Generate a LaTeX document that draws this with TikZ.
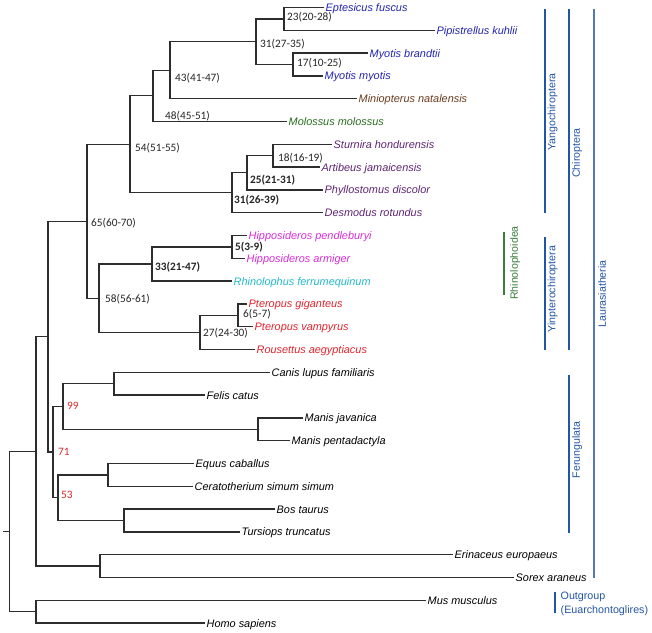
\documentclass[tikz,border=0pt]{standalone}
\usepackage{fontspec}
\setmainfont{Liberation Sans}
\newfontfamily\numfont{Carlito}
\definecolor{vesp}{RGB}{35,35,175}
\definecolor{minio}{RGB}{105,60,30}
\definecolor{molo}{RGB}{40,110,30}
\definecolor{phyl}{RGB}{95,35,115}
\definecolor{hipp}{RGB}{215,45,215}
\definecolor{rhin}{RGB}{35,185,200}
\definecolor{ptero}{RGB}{225,35,45}
\definecolor{cladeblue}{RGB}{35,85,165}
\definecolor{laurblue}{RGB}{85,120,180}
\definecolor{rhgreen}{RGB}{60,125,60}
\definecolor{supred}{RGB}{220,40,40}
\definecolor{branchcol}{RGB}{45,45,45}
\begin{document}
\begin{tikzpicture}[x=1pt,y=-1pt,
  br/.style={draw=branchcol,line width=1.25pt},
  leaf/.style={anchor=west,inner xsep=1.5pt,inner ysep=0pt,text height=7.8pt,text depth=0pt,font=\fontsize{10.9}{12}\selectfont\itshape},
  age/.style={anchor=west,inner sep=0pt,text height=7.2pt,text depth=0pt,font=\numfont\fontsize{11.3}{12}\selectfont,text=black!85},
  agebold/.style={age,font=\numfont\bfseries\fontsize{11.3}{12}\selectfont},
  supp/.style={age,text=supred},
  clade/.style={rotate=90,inner sep=0pt,font=\fontsize{10.6}{12}\selectfont,text=cladeblue},
  outlbl/.style={anchor=west,inner sep=0pt,font=\fontsize{10.7}{12}\selectfont,text=cladeblue},
  bar/.style={draw=cladeblue,line width=1.1pt}]
\useasboundingbox (0,0) rectangle (652,632);
% leaves
\node[leaf,text=vesp] (l1) at (324,7.5) {Eptesicus fuscus};
\node[leaf,text=vesp] (l2) at (435,30.3) {Pipistrellus kuhlii};
\node[leaf,text=vesp] (l3) at (368,53.1) {Myotis brandtii};
\node[leaf,text=vesp] (l4) at (323,75.9) {Myotis myotis};
\node[leaf,text=minio] (l5) at (357,98.7) {Miniopterus natalensis};
\node[leaf,text=molo] (l6) at (287,121.5) {Molossus molossus};
\node[leaf,text=phyl] (l7) at (332,144.3) {Sturnira hondurensis};
\node[leaf,text=phyl] (l8) at (320,167.1) {Artibeus jamaicensis};
\node[leaf,text=phyl] (l9) at (323,189.9) {Phyllostomus discolor};
\node[leaf,text=phyl] (l10) at (323,212.7) {Desmodus rotundus};
\node[leaf,text=hipp] (l11) at (247,235.5) {Hipposideros pendleburyi};
\node[leaf,text=hipp] (l12) at (245,258.3) {Hipposideros armiger};
\node[leaf,text=rhin] (l13) at (232,281.1) {Rhinolophus ferrumequinum};
\node[leaf,text=ptero] (l14) at (247,303.9) {Pteropus giganteus};
\node[leaf,text=ptero] (l15) at (253,326.7) {Pteropus vampyrus};
\node[leaf,text=ptero] (l16) at (255,349.5) {Rousettus aegyptiacus};
\node[leaf] (l17) at (270,372.3) {Canis lupus familiaris};
\node[leaf] (l18) at (205,395.1) {Felis catus};
\node[leaf] (l19) at (303,417.9) {Manis javanica};
\node[leaf] (l20) at (290,440.7) {Manis pentadactyla};
\node[leaf] (l21) at (194,463.5) {Equus caballus};
\node[leaf] (l22) at (193,486.3) {Ceratotherium simum simum};
\node[leaf] (l23) at (275,509.1) {Bos taurus};
\node[leaf] (l24) at (240,531.9) {Tursiops truncatus};
\node[leaf] (l25) at (453,554.7) {Erinaceus europaeus};
\node[leaf] (l26) at (514,577.5) {Sorex araneus};
\node[leaf] (l27) at (426,600.3) {Mus musculus};
\node[leaf] (l28) at (205,623.1) {Homo sapiens};
% internal nodes
\coordinate (n23) at (284,18.9);
\coordinate (n17) at (293,64.5);
\coordinate (n31) at (256,41.7);
\coordinate (n43) at (170,70.2);
\coordinate (n48) at (153,95.85);
\coordinate (n18) at (273,155.7);
\coordinate (n25) at (247,172.8);
\coordinate (n31b) at (232,192.75);
\coordinate (n54) at (130,144.3);
\coordinate (n5) at (232,246.9);
\coordinate (n33) at (152,264);
\coordinate (n6) at (238,315.3);
\coordinate (n27) at (200,332.4);
\coordinate (n58) at (99,298.2);
\coordinate (n65) at (87,221.25);
\coordinate (ncarn) at (114,383.7);
\coordinate (nmanis) at (258,429.3);
\coordinate (n99) at (63,406.5);
\coordinate (nper) at (108,474.9);
\coordinate (ncet) at (124,520.5);
\coordinate (n53) at (58,497.7);
\coordinate (n71) at (53,452.1);
\coordinate (nscr) at (48,336.7);
\coordinate (neul) at (100,566.1);
\coordinate (nlaur) at (36,451.4);
\coordinate (nout) at (36,611.7);
\coordinate (nroot) at (9.5,531.55);
\coordinate (nstub) at (3,531.55);
% branches
\foreach \p/\c in {n23/l1.west,n23/l2.west,n17/l3.west,n17/l4.west,n31/n23,n31/n17,
  n43/n31,n43/l5.west,n48/n43,n48/l6.west,n18/l7.west,n18/l8.west,n25/n18,n25/l9.west,
  n31b/n25,n31b/l10.west,n54/n48,n54/n31b,n5/l11.west,n5/l12.west,n33/n5,n33/l13.west,
  n6/l14.west,n6/l15.west,n27/n6,n27/l16.west,n58/n33,n58/n27,n65/n54,n65/n58,
  ncarn/l17.west,ncarn/l18.west,nmanis/l19.west,nmanis/l20.west,n99/ncarn,n99/nmanis,
  nper/l21.west,nper/l22.west,ncet/l23.west,ncet/l24.west,n53/nper,n53/ncet,
  n71/n99,n71/n53,nscr/n65,nscr/n71,neul/l25.west,neul/l26.west,nlaur/nscr,nlaur/neul,
  nout/l27.west,nout/l28.west,nroot/nlaur,nroot/nout}
  {\draw[br] (\p) |- (\c);}
\draw[br] (nstub) -- (nroot);
% node ages
\node[age] (a23) at (287,17) {23(20-28)};
\node[age] (a17) at (297,63) {17(10-25)};
\node[age] (a31) at (260,44) {31(27-35)};
\node[age] (a43) at (175,78) {43(41-47)};
\node[age] (a48) at (165,116) {48(45-51)};
\node[age] (a54) at (135,148) {54(51-55)};
\node[age] (a18) at (278,158) {18(16-19)};
\node[agebold] (a25) at (250,180) {25(21-31)};
\node[agebold] (a31b) at (234,200) {31(26-39)};
\node[age] (a65) at (91,223) {65(60-70)};
\node[agebold] (a5) at (235,247) {5(3-9)};
\node[agebold] (a33) at (155,267) {33(21-47)};
\node[age] (a58) at (105,299) {58(56-61)};
\node[age] (a6) at (243,314) {6(5-7)};
\node[age] (a27) at (203,333) {27(24-30)};
\node[supp] (s99) at (67,406) {99};
\node[supp] (s71) at (58,452) {71};
\node[supp] (s53) at (61,495) {53};
% clade bars
\draw[bar] (545,9) -- (545,213);
\node[clade] (cyang) at (552.5,112) {Yangochiroptera};
\draw[bar] (545,237) -- (545,350);
\node[clade] (cyin) at (552.5,289) {Yinpterochiroptera};
\draw[bar] (569,9) -- (569,350);
\node[clade] (cchi) at (577,153) {Chiroptera};
\draw[bar,draw=laurblue] (594,9) -- (594,578);
\node[clade] (claur) at (602,294) {Laurasiatheria};
\draw[bar] (569,375) -- (569,533);
\node[clade] (cfer) at (577,450) {Ferungulata};
\draw[bar,draw=rhgreen] (504,232) -- (504,295);
\node[clade,text=rhgreen] (crh) at (515,263) {Rhinolophoidea};
\draw[bar] (555,592) -- (555,613);
\node[outlbl] (cout) at (560.5,597) {Outgroup};
\node[outlbl] (ceua) at (560.5,611) {(Euarchontoglires)};
\end{tikzpicture}
\end{document}
